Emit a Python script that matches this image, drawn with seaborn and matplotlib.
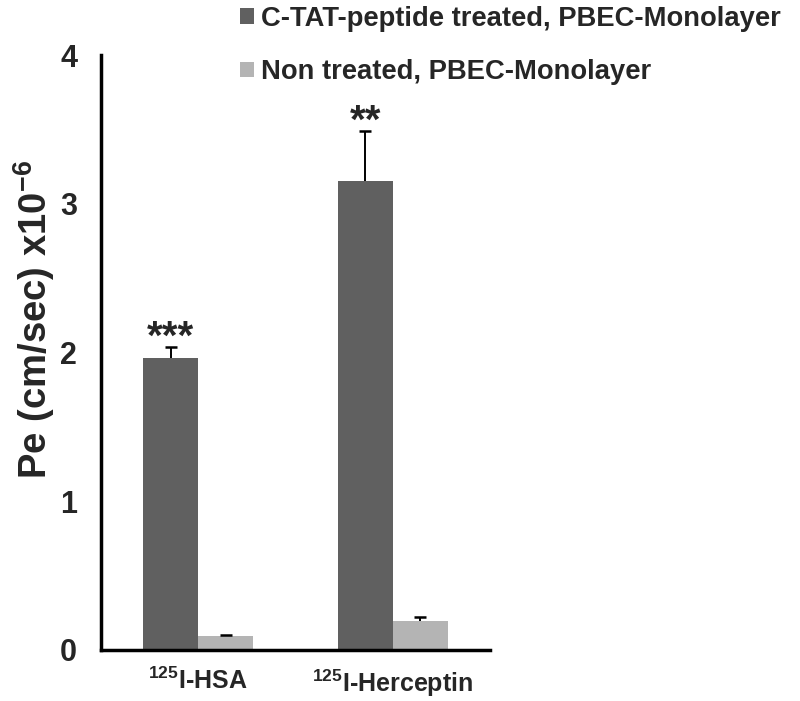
import matplotlib
matplotlib.use("Agg")
import matplotlib.pyplot as plt
import matplotlib.transforms as mtransforms
import seaborn as sns
import pandas as pd
import numpy as np

categories = [r"$^{125}$I-HSA", r"$^{125}$I-Herceptin"]
series = ["C-TAT-peptide treated, PBEC-Monolayer", "Non treated, PBEC-Monolayer"]
treated = [1.965, 3.15]
treated_err = [0.07, 0.34]
nontreated = [0.095, 0.195]
nontreated_err = [0.005, 0.025]
stars = ["***", "**"]
colors = ["#606060", "#b4b4b4"]

sns.set_style("white")
plt.rcParams['font.family'] = ['Liberation Sans', 'DejaVu Sans']
plt.rcParams['font.weight'] = 'bold'
plt.rcParams['mathtext.fontset'] = 'custom'
plt.rcParams['mathtext.rm'] = 'Liberation Sans:bold'
plt.rcParams['mathtext.bf'] = 'Liberation Sans:bold'
plt.rcParams['mathtext.default'] = 'bf'

df = pd.DataFrame({
    "cat": categories * 2,
    "series": [series[0]] * 2 + [series[1]] * 2,
    "val": treated + nontreated,
})

fig = plt.figure(figsize=(8, 7.01), dpi=100)
ax = fig.add_axes([0.126, 0.073, 0.4865, 0.8485])
sns.barplot(data=df, x="cat", y="val", hue="series", palette=colors,
            width=0.565, errorbar=None, ax=ax, saturation=1, linewidth=0,
            hue_order=series, order=categories, legend=False)

errs = [treated_err, nontreated_err]
vals = [treated, nontreated]
bar_containers = list(ax.containers)
for si, cont in enumerate(bar_containers):
    for ci, p in enumerate(cont.patches):
        xc = p.get_x() + p.get_width() / 2
        eb = ax.errorbar(xc, vals[si][ci], yerr=[[0], [errs[si][ci]]], fmt='none',
                         ecolor='black', elinewidth=1.4, capsize=4.5, capthick=1.8, zorder=3)
        caps = eb.lines[1]
        if len(caps) > 1:
            caps[0].set_visible(False)
        if si == 0:
            ax.text(xc, vals[si][ci] + errs[si][ci] - 0.065, stars[ci], ha='center',
                    va='bottom', fontsize=29, fontweight='bold')

ax.set_xlim(-0.5, 1.5)
ax.set_ylim(0, 4)
ax.set_yticks([0, 1, 2, 3, 4])
ax.set_yticklabels(["0", "1", "2", "3", "4"], fontsize=22, fontweight='bold')
ax.set_xticks([-0.5, 0.5, 1.5])
ax.set_xticklabels([])
ax.set_xticks([0, 1], minor=True)
ax.set_xticklabels(categories, minor=True, fontsize=18, fontweight='bold')
shift = mtransforms.ScaledTranslation(-6 / 100, 0, fig.dpi_scale_trans)
for lbl in ax.get_xticklabels(minor=True):
    lbl.set_transform(lbl.get_transform() + shift)
ax.tick_params(axis='x', which='minor', length=0, pad=13)
ax.tick_params(axis='x', which='major', direction='out', length=8, width=2.5, color='black')
ax.tick_params(axis='y', direction='out', length=8, width=2.5, color='black', pad=9)
ax.set_xlabel("")
ax.set_ylabel(r"Pe (cm/sec) x10$^{-6}$", fontsize=27.5, fontweight='bold')
ax.yaxis.set_label_coords(-0.113, 0.555)

for s in ["top", "right"]:
    ax.spines[s].set_visible(False)
for s in ["left", "bottom"]:
    ax.spines[s].set_linewidth(2.5)
    ax.spines[s].set_color('black')

from matplotlib.patches import Patch
handles = [Patch(facecolor=c, edgecolor='none') for c in colors]
leg = fig.legend(handles, series, loc='upper left', bbox_to_anchor=(240 / 800, 1 - 6 / 701),
                 frameon=False, fontsize=19.7, handlelength=0.5, handleheight=0.5,
                 handletextpad=0.25, labelspacing=1.0, borderaxespad=0, borderpad=0)
for t in leg.get_texts():
    t.set_fontweight('bold')

fig.savefig("out.png", dpi=100)
